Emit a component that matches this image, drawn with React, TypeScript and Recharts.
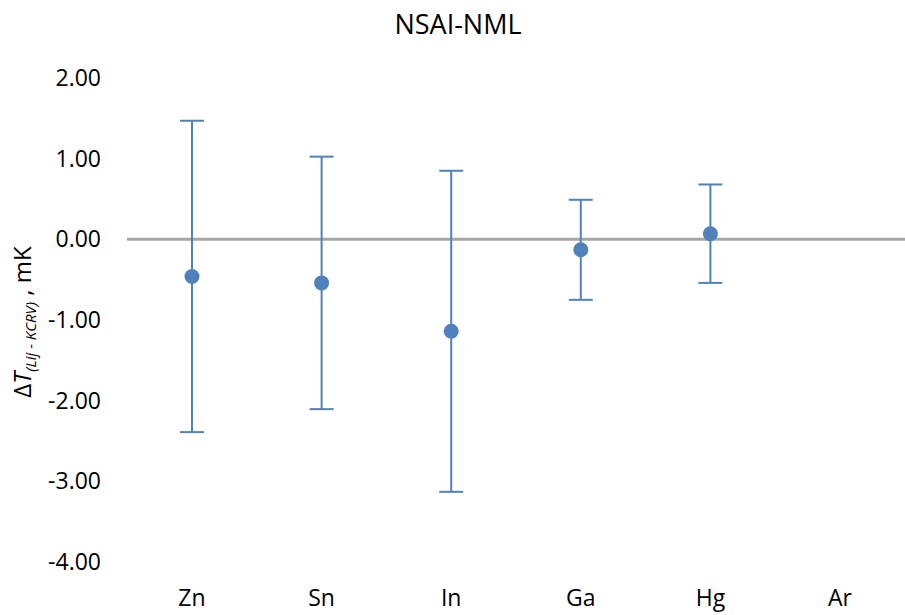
import { LineChart, Line, XAxis, YAxis, ErrorBar, ReferenceLine } from "recharts";

const categories = ["Zn", "Sn", "In", "Ga", "Hg", "Ar"];
const deltaT = [-0.46, -0.54, -1.14, -0.13, 0.07, null];
const uncertainty = [1.93, 1.565, 1.99, 0.62, 0.61, null];
const yTicks = [-4, -3, -2, -1, 0, 1, 2];

const data = categories.map((name, i) => ({
  name,
  value: deltaT[i],
  err: uncertainty[i],
}));

const FONT = "'Open Sans', sans-serif";
const BLUE = "#4F81BD";

export default function App() {
  return (
    <div style={{ position: "absolute", left: 0, top: 0, width: 905, height: 615, background: "#fff" }}>
      <LineChart
        width={905}
        height={615}
        data={data}
        margin={{ top: 78, right: 0, left: 0, bottom: 0 }}
      >
        <XAxis
          dataKey="name"
          axisLine={false}
          tickLine={false}
          tickSize={0}
          tickMargin={28}
          height={53}
          padding={{ left: 65, right: 65 }}
          tick={{ fill: "#000", fontSize: 23, fontFamily: FONT }}
          interval={0}
        />
        <YAxis
          domain={[-4, 2]}
          ticks={yTicks}
          width={127}
          axisLine={false}
          tickLine={false}
          tickSize={0}
          tickMargin={26}
          tickFormatter={(v: number) => v.toFixed(2)}
          tick={{ fill: "#000", fontSize: 23, fontFamily: FONT }}
        />
        <ReferenceLine y={0} stroke="#A6A6A6" strokeWidth={3} />
        <Line
          dataKey="value"
          stroke="none"
          isAnimationActive={false}
          activeDot={false}
          dot={{ r: 7.5, fill: BLUE, stroke: "none" }}
        >
          <ErrorBar dataKey="err" width={12} strokeWidth={2} stroke={BLUE} direction="y" />
        </Line>
      </LineChart>
      <svg
        width={905}
        height={615}
        style={{ position: "absolute", left: 0, top: 0, pointerEvents: "none" }}
      >
        <text x={458} y={34} textAnchor="middle" fontFamily={FONT} fontSize={27} fill="#000">
          NSAI-NML
        </text>
        <text
          x={31}
          y={322}
          textAnchor="middle"
          fontFamily={FONT}
          fontSize={24}
          fill="#000"
          transform="rotate(-90, 31, 322)"
        >
          <tspan>Δ</tspan>
          <tspan fontStyle="italic">T</tspan>
          <tspan fontStyle="italic" fontSize={15} dy={5}>(Lij - KCRV)</tspan>
          <tspan dy={-5}> ,  mK</tspan>
        </text>
      </svg>
    </div>
  );
}
